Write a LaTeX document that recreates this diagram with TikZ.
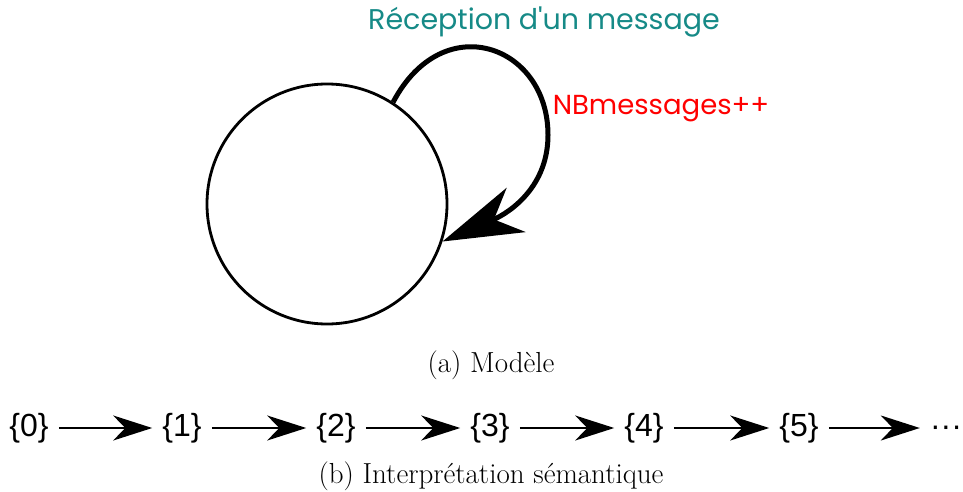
\documentclass[tikz,border=0pt]{standalone}
\usepackage{fontspec}
\newfontfamily\geofont{Poppins}
\newfontfamily\helvfont{Liberation Sans}
\usetikzlibrary{arrows.meta, positioning}
\definecolor{recvteal}{RGB}{22,138,135}

\begin{document}
\begin{tikzpicture}[x=1pt, y=-1pt,
    state/.style={circle, draw, line width=2.8pt, minimum size=240pt, inner sep=0pt},
    loopedge/.style={line width=5pt, -{Stealth[length=80pt, width=48pt, inset=24pt]}},
    chain/.style={line width=2.3pt, -{Stealth[length=39pt, width=25pt, inset=12pt]},
        shorten <=10pt, shorten >=10pt},
    setnode/.style={font=\helvfont\fontsize{32}{36}\selectfont, inner sep=0pt,
        text height=24pt, text depth=7pt},
    looplabel/.style={font=\geofont\fontsize{28.5}{32}\selectfont},
    caption/.style={font=\fontsize{29}{34}\selectfont}]
\useasboundingbox (0,0) rectangle (963,492);

% (a) le modele
\node[state] (state) at (327,204) {};
\coordinate (loopright) at (548,135);
\draw[loopedge] (state.57) .. controls +(50,-95) and +(0,-90) .. (loopright)
    .. controls +(0,50) and +(70,-30) .. (state.-18);
\node[looplabel, text=recvteal] (recv) at (544,22) {Réception d'un message};
\node[looplabel, text=red, font=\geofont\fontsize{27.5}{32}\selectfont] (incr) at (661,109) {NBmessages++};
\node[caption] (capa) at (491,365) {(a) Modèle};

% (b) interpretation
\foreach \x [count=\i from 0] in {29,182,336,490,644,799}
  \node[setnode] (s\i) at (\x,428) {\{\i\}};
\node[setnode] (more) at (946,428) {···};
\foreach \a/\b in {s0/s1, s1/s2, s2/s3, s3/s4, s4/s5, s5/more}
  \draw[chain] (\a) -- (\b);
\node[caption] (capb) at (491,476) {(b) Interprétation sémantique};
\end{tikzpicture}
\end{document}
